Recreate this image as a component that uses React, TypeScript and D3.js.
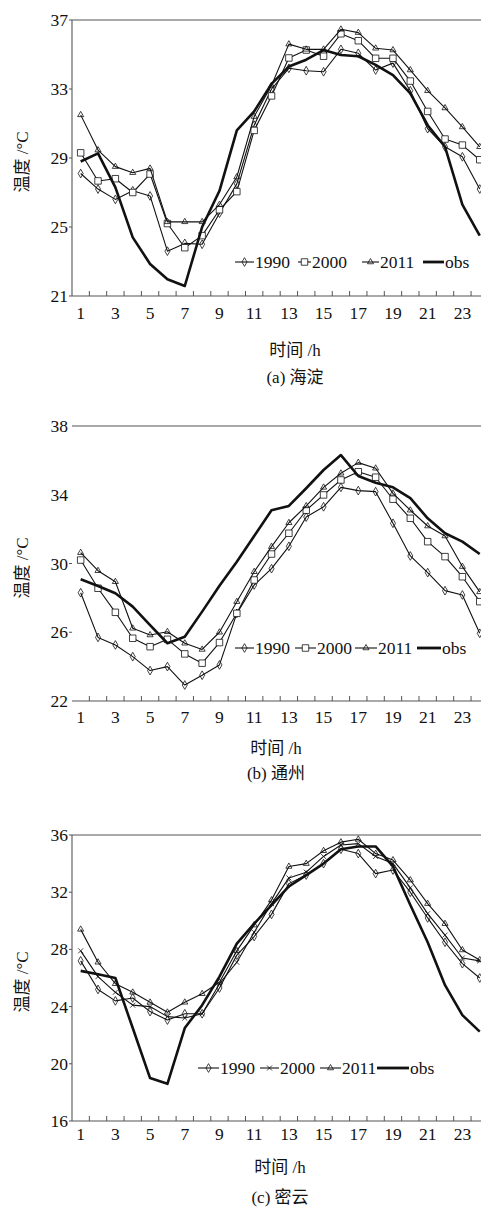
import React from "react";
import * as d3 from "d3";

// ---------- data ----------
const hours = [1, 2, 3, 4, 5, 6, 7, 8, 9, 10, 11, 12, 13, 14, 15, 16, 17, 18, 19, 20, 21, 22, 23, 24];
const hourLabels = [1, 3, 5, 7, 9, 11, 13, 15, 17, 19, 21, 23];
const seriesNames = ["1990", "2000", "2011", "obs"];

// (a) 海淀
const haidian1990 = [28.1, 27.2, 26.6, 27.1, 26.8, 23.6, 24.05, 24.0, 25.8, 27.5, 30.9, 33.0, 34.2, 34.06, 34.0, 35.3, 35.07, 34.1, 34.5, 32.9, 30.7, 29.65, 29.07, 27.2];
const haidian2000 = [29.3, 27.67, 27.8, 27.0, 28.07, 25.2, 23.8, 24.5, 26.0, 27.05, 30.6, 32.6, 34.8, 35.26, 34.9, 36.2, 35.8, 34.78, 34.78, 33.46, 31.7, 30.1, 29.75, 28.9];
const haidian2011 = [31.5, 29.46, 28.5, 28.15, 28.4, 25.3, 25.3, 25.3, 26.3, 27.9, 31.4, 33.2, 35.6, 35.3, 35.3, 36.46, 36.27, 35.36, 35.26, 34.1, 32.9, 31.9, 30.8, 29.65];
const haidianObs = [28.8, 29.27, 27.3, 24.4, 22.86, 21.97, 21.58, 25.0, 27.1, 30.6, 31.7, 33.3, 34.3, 34.7, 35.26, 34.97, 34.9, 34.4, 33.8, 32.75, 30.9, 29.65, 26.3, 24.5];

// (b) 通州
const tongzhou1990 = [28.3, 25.7, 25.26, 24.58, 23.77, 24.0, 22.93, 23.5, 24.1, 27.1, 28.75, 29.7, 31.0, 32.7, 33.3, 34.43, 34.24, 34.18, 32.34, 30.44, 29.47, 28.42, 28.17, 25.94];
const tongzhou2000 = [30.2, 28.56, 27.16, 25.65, 25.16, 25.59, 24.74, 24.2, 25.4, 27.1, 29.04, 30.55, 31.76, 33.1, 33.99, 34.86, 35.34, 35.02, 33.74, 32.63, 31.27, 30.4, 29.23, 27.78];
const tongzhou2011 = [30.63, 29.58, 28.94, 26.23, 25.84, 26.03, 25.36, 25.0, 26.0, 27.78, 29.52, 30.98, 32.37, 33.35, 34.43, 35.25, 35.87, 35.54, 34.08, 33.1, 32.18, 31.6, 29.82, 28.35];
const tongzhouObs = [29.08, 28.69, 28.27, 27.49, 26.42, 25.36, 25.74, 27.2, 28.7, 30.1, 31.6, 33.1, 33.35, 34.38, 35.44, 36.31, 35.09, 34.7, 34.43, 33.8, 32.63, 31.76, 31.27, 30.55];

// (c) 密云
const miyun1990 = [27.2, 25.2, 24.4, 24.6, 23.65, 23.06, 23.5, 23.5, 25.3, 27.6, 28.9, 30.45, 32.6, 33.2, 34.0, 35.0, 34.7, 33.3, 33.55, 32.0, 30.2, 28.5, 27.0, 26.0];
const miyun2000 = [27.9, 26.1, 25.0, 24.1, 24.0, 23.3, 23.2, 23.5, 25.6, 27.1, 29.2, 31.2, 33.0, 33.4, 34.5, 35.3, 35.4, 34.5, 34.0, 32.3, 30.5, 29.0, 27.4, 27.2];
const miyun2011 = [29.4, 27.1, 25.6, 25.0, 24.3, 23.6, 24.3, 24.9, 25.7, 27.9, 29.7, 31.45, 33.8, 34.0, 34.9, 35.5, 35.7, 34.7, 34.25, 32.85, 31.2, 29.8, 27.96, 27.26];
const miyunObs = [26.5, 26.26, 26.0, 22.5, 19.0, 18.6, 22.5, 24.1, 26.1, 28.4, 29.8, 31.1, 32.4, 33.2, 34.0, 35.0, 35.2, 35.2, 33.8, 31.1, 28.5, 25.5, 23.4, 22.25];

const yTicksA = [21, 25, 29, 33, 37];
const yTicksB = [22, 26, 30, 34, 38];
const yTicksC = [16, 20, 24, 28, 32, 36];
const yTickMarksB = [26, 30];

// ---------- layout / style ----------
const W = 481;
const H = 1209;
const LATIN = "'Liberation Serif', 'Times New Roman', serif";
const CJK = "'Liberation Serif', 'Noto Sans CJK SC', serif";
const AX = "#555";
const INK = "#111";
const X0 = 72;
const STEP = 17.35;

type Marker = "diamond" | "square" | "triangle" | "times" | "none";

const panels = [
  {
    key: "a",
    series: [haidian1990, haidian2000, haidian2011, haidianObs],
    markers: ["diamond", "square", "triangle", "none"] as Marker[],
    yTicks: yTicksA,
    yTickMarks: yTicksA,
    domain: [21, 37],
    top: 20,
    bottom: 296,
    leftAxis: true,
    xLabelY: 313,
    xTitleY: 350,
    captionY: 377,
    titleX: 295,
    yTitleY: 162,
    legendY: 262,
    legend: [235, 298, 362, 423],
    legendText: [255, 312, 380, 445],
    caption: "(a)  海淀",
  },
  {
    key: "b",
    series: [tongzhou1990, tongzhou2000, tongzhou2011, tongzhouObs],
    markers: ["diamond", "square", "triangle", "none"] as Marker[],
    yTicks: yTicksB,
    yTickMarks: yTickMarksB,
    domain: [22, 38],
    top: 426,
    bottom: 701,
    leftAxis: false,
    xLabelY: 717,
    xTitleY: 748,
    captionY: 773,
    titleX: 276,
    yTitleY: 568,
    legendY: 648,
    legend: [235, 295, 355, 417],
    legendText: [255, 317, 378, 442],
    caption: "(b)  通州",
  },
  {
    key: "c",
    series: [miyun1990, miyun2000, miyun2011, miyunObs],
    markers: ["diamond", "times", "triangle", "none"] as Marker[],
    yTicks: yTicksC,
    yTickMarks: yTicksC,
    domain: [16, 36],
    top: 835,
    bottom: 1121,
    leftAxis: true,
    xLabelY: 1134,
    xTitleY: 1167,
    captionY: 1197,
    titleX: 280,
    yTitleY: 982,
    legendY: 1068,
    legend: [198, 260, 320, 377],
    legendText: [220, 280, 342, 410],
    caption: "(c)  密云",
  },
];

const x = d3
  .scaleBand<number>()
  .domain(hours)
  .range([X0, X0 + STEP * hours.length])
  .paddingInner(0)
  .paddingOuter(0);
const cx = (h: number) => (x(h) as number) + x.bandwidth() / 2;

function markerPath(m: Marker): string | null {
  if (m === "diamond") return d3.symbol(d3.symbolDiamond, 22)() as string;
  if (m === "square") return d3.symbol(d3.symbolSquare, 42)() as string;
  if (m === "triangle") return d3.symbol(d3.symbolTriangle, 16)() as string;
  if (m === "times") return d3.symbol(d3.symbolTimes, 18)() as string;
  return null;
}

function Panel({ p }: { p: (typeof panels)[number] }) {
  const y = d3.scaleLinear().domain(p.domain).range([p.bottom, p.top]);
  const line = d3
    .line<number>()
    .x((_, i) => cx(hours[i]))
    .y((d) => y(d));
  const boundaries = hours.slice(1).map((h) => x(h) as number);
  const latin = { fontFamily: LATIN };
  const cjk = { fontFamily: CJK };
  return (
    <g>
      {/* frame */}
      <line x1={X0} x2={W} y1={p.top} y2={p.top} stroke={AX} strokeWidth={1.1} />
      <line x1={X0} x2={W} y1={p.bottom} y2={p.bottom} stroke={AX} strokeWidth={1.1} />
      {p.leftAxis && <line x1={X0} x2={X0} y1={p.top} y2={p.bottom} stroke={AX} strokeWidth={1.1} />}
      {boundaries.map((bx, i) => (
        <line key={"xt" + i} x1={bx} x2={bx} y1={p.bottom} y2={p.bottom - 5} stroke={AX} strokeWidth={1} />
      ))}
      {p.yTickMarks.map((t) => (
        <line key={"ytm" + t} x1={X0 - 3} x2={X0} y1={y(t)} y2={y(t)} stroke={AX} strokeWidth={1} />
      ))}
      {/* y tick labels */}
      {p.yTicks.map((t) => (
        <text
          key={"yt" + t}
          x={68}
          y={y(t)}
          textAnchor="end"
          dominantBaseline="central"
          style={latin}
          fontSize={17.5}
          fill={INK}
        >
          {t}
        </text>
      ))}
      {/* x tick labels */}
      {hourLabels.map((h) => (
        <text
          key={"xl" + h}
          x={cx(h)}
          y={p.xLabelY}
          textAnchor="middle"
          dominantBaseline="central"
          style={latin}
          fontSize={17.5}
          fill={INK}
        >
          {h}
        </text>
      ))}
      {/* titles */}
      <text
        x={p.titleX}
        y={p.xTitleY}
        textAnchor="middle"
        dominantBaseline="central"
        style={cjk}
        fontSize={17}
        fill={INK}
      >
        时间 /h
      </text>
      <text
        x={p.titleX}
        y={p.captionY}
        textAnchor="middle"
        dominantBaseline="central"
        style={cjk}
        fontSize={17}
        fill={INK}
      >
        {p.caption}
      </text>
      <text
        transform={`translate(22,${p.yTitleY}) rotate(-90)`}
        textAnchor="middle"
        dominantBaseline="central"
        style={cjk}
        fontSize={17}
        fill={INK}
      >
        温度 /°C
      </text>
      {/* series */}
      {p.series.map((vals, si) => {
        const m = p.markers[si];
        const isObs = seriesNames[si] === "obs";
        const mp = markerPath(m);
        return (
          <g key={"s" + si}>
            <path
              d={line(vals) as string}
              fill="none"
              stroke={INK}
              strokeWidth={isObs ? 2.6 : 1.1}
              strokeLinejoin="round"
            />
            {mp &&
              vals.map((v, i) => (
                <path
                  key={i}
                  d={mp}
                  transform={`translate(${cx(hours[i])},${y(v)})`}
                  fill={m === "square" ? "#fff" : "none"}
                  stroke={INK}
                  strokeWidth={0.8}
                />
              ))}
          </g>
        );
      })}
      {/* legend */}
      {seriesNames.map((name, si) => {
        const lx0 = p.legend[si];
        const lx1 = p.legendText[si] - 1;
        const m = p.markers[si];
        const mp = markerPath(m);
        const isObs = name === "obs";
        return (
          <g key={"lg" + si}>
            <line
              x1={lx0}
              x2={lx1}
              y1={p.legendY}
              y2={p.legendY}
              stroke={INK}
              strokeWidth={isObs ? 2.8 : 1.1}
            />
            {mp && (
              <path
                d={mp}
                transform={`translate(${(lx0 + lx1) / 2},${p.legendY})`}
                fill={m === "square" ? "#fff" : "none"}
                stroke={INK}
                strokeWidth={0.8}
              />
            )}
            <text
              x={p.legendText[si]}
              y={p.legendY}
              dominantBaseline="central"
              style={latin}
              fontSize={17.5}
              fill={INK}
            >
              {name}
            </text>
          </g>
        );
      })}
    </g>
  );
}

export default function App() {
  return (
    <svg
      width={W}
      height={H}
      viewBox={`0 0 ${W} ${H}`}
      style={{ position: "absolute", left: 0, top: 0, background: "#fff", overflow: "hidden" }}
    >
      <rect x={0} y={0} width={W} height={H} fill="#fff" />
      {panels.map((p) => (
        <Panel key={p.key} p={p} />
      ))}
    </svg>
  );
}
